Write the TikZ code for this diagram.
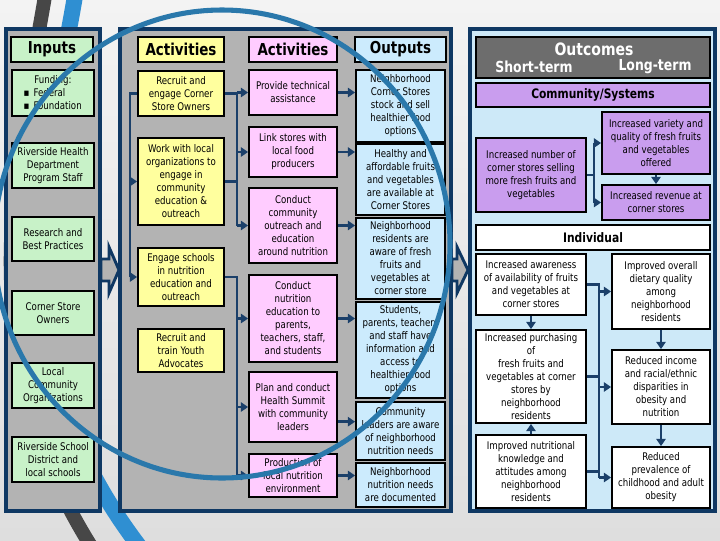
\documentclass[tikz,border=0pt]{standalone}
\usepackage{fontspec}
\setmainfont{DejaVu Sans}[FakeStretch=0.82]
\usetikzlibrary{arrows.meta}
\definecolor{navy}{HTML}{0F3863}
\definecolor{wirec}{HTML}{1B406A}
\definecolor{pgray}{HTML}{B3B3B3}
\definecolor{gfill}{HTML}{C8F2C8}
\definecolor{yfill}{HTML}{FFFF9E}
\definecolor{pfill}{HTML}{FFCCFF}
\definecolor{bfill}{HTML}{CCEBFD}
\definecolor{ofill}{HTML}{CDE9F8}
\definecolor{ufill}{HTML}{C99DEE}
\definecolor{hgray}{HTML}{6D6D6D}
\definecolor{swoosh}{HTML}{2A78AB}
\definecolor{stripeD}{HTML}{474747}
\definecolor{stripeB}{HTML}{2F8FD2}
\definecolor{bgtop}{HTML}{F3F3F3}
\definecolor{bgbot}{HTML}{DEDEDE}
\newcommand\Bx[7]{\node[#1, minimum width={(#5-#3)*0.75pt}, minimum height={(#6-#4)*0.75pt}] (#2) at ({(#3+#5)/2},{(#4+#6)/2}) {#7};}
\tikzset{
  panel/.style={draw=navy, line width=3pt, inner sep=0pt},
  bx/.style={draw=black, line width=1.3pt, align=center, inner sep=1pt, font=\fontsize{7.9}{9.75}\selectfont},
  gbox/.style={bx, fill=gfill},
  ybox/.style={bx, fill=yfill},
  pbox/.style={bx, fill=pfill},
  obox/.style={bx, fill=bfill},
  ubox/.style={bx, fill=ufill},
  wbox/.style={bx, fill=white},
  hdr/.style={draw=black, line width=1.5pt, inner sep=0pt, font=\bfseries\fontsize{12.3}{14}\selectfont},
  band/.style={draw=black, line width=1.5pt, inner sep=0pt, font=\bfseries\fontsize{9.8}{12}\selectfont},
  htext/.style={text=white, inner sep=0pt, font=\bfseries\fontsize{11.4}{13}\selectfont},
  wire/.style={draw=wirec, line width=1.8pt},
  arr/.style={wire, -{Triangle[length=5.5pt,width=7pt]}},
  blockarr/.style={fill=pgray, draw=navy, line width=2.2pt, line join=miter},
}
\begin{document}
\begin{tikzpicture}[x=0.75pt,y=-0.75pt]
\useasboundingbox (0,0) rectangle (720,540);
\clip (0,0) rectangle (720,540);
\shade[top color=bgtop, bottom color=bgbot] (0,0) rectangle (720,540);
% background stripes
\draw[stripeD, line width=10.5pt] (46,-10) .. controls (20,150) and (-40,350) .. (100,560);
\draw[stripeB, line width=12pt] (76,-10) .. controls (50,150) and (-20,350) .. (150,560);
% panels
\Bx{panel, fill=pgray}{panIn}{6}{29}{100}{511}{}
\Bx{panel, fill=pgray}{panAct}{120}{29}{451}{511}{}
\Bx{panel, fill=ofill}{panOut}{470}{29}{715}{511}{}
% block arrows between panels
\draw[blockarr] (101,259)--(109,259)--(109,247)--(119,270)--(109,293)--(109,281)--(101,281)--cycle;
\draw[blockarr] (452,259)--(457,259)--(457,247)--(468,270)--(457,293)--(457,281)--(452,281)--cycle;
% headers
\Bx{hdr, fill=gfill}{hIn}{11}{37}{93}{62}{Inputs}
\Bx{hdr, fill=yfill}{hAc1}{138}{37}{224}{62}{Activities}
\Bx{hdr, fill=pfill}{hAc2}{249}{37}{337}{62}{Activities}
\Bx{hdr, fill=bfill}{hOut}{355}{37}{446}{62}{Outputs}
% inputs
\Bx{gbox}{in1}{12}{70}{94}{116}{Funding:\\\makebox[44pt][l]{▪\hspace{3pt}Federal}\\\makebox[44pt][l]{▪\hspace{3pt}Foundation}}
\Bx{gbox}{in2}{12}{143}{94}{188}{Riverside Health\\Department\\Program Staff}
\Bx{gbox}{in3}{12}{217}{94}{261}{Research and\\Best Practices}
\Bx{gbox}{in4}{12}{291}{94}{335}{Corner Store\\Owners}
\Bx{gbox}{in5}{12}{363}{94}{408}{Local\\Community\\Organizations}
\Bx{gbox}{in6}{12}{437}{94}{482}{Riverside School\\District and\\local schools}
% activities (yellow)
\Bx{ybox}{y1}{138}{71}{224}{116}{Recruit and\\engage Corner\\Store Owners}
\Bx{ybox}{y2}{138}{138}{224}{225}{Work with local\\organizations to\\engage in\\community\\education \&\\outreach}
\Bx{ybox}{y3}{138}{248}{224}{306}{Engage schools\\in nutrition\\education and\\outreach}
\Bx{ybox}{y4}{138}{329}{224}{372}{Recruit and\\train Youth\\Advocates}
% activities (pink)
\Bx{pbox}{p1}{249}{70}{337}{115}{Provide technical\\assistance}
\Bx{pbox}{p2}{249}{127}{337}{177}{Link stores with\\local food\\producers}
\Bx{pbox}{p3}{249}{188}{337}{263}{Conduct\\community\\outreach and\\education\\around nutrition}
\Bx{pbox}{p4}{249}{275}{337}{362}{Conduct\\nutrition\\education to\\parents,\\teachers, staff,\\and students}
\Bx{pbox}{p5}{249}{372}{337}{442}{Plan and conduct\\Health Summit\\with community\\leaders}
\Bx{pbox}{p6}{249}{454}{337}{497}{Production of\\local nutrition\\environment}
% outputs
\Bx{obox}{o1}{356}{70}{445}{142}{Neighborhood\\Corner Stores\\stock and sell\\healthier food\\options}
\Bx{obox}{o2}{356}{144}{445}{215}{Healthy and\\affordable fruits\\and vegetables\\are available at\\Corner Stores}
\Bx{obox}{o3}{356}{218}{445}{299}{Neighborhood\\residents are\\aware of fresh\\fruits and\\vegetables at\\corner store}
\Bx{obox}{o4}{356}{302}{445}{398}{Students,\\parents, teachers\\and staff have\\information and\\access to\\healthier food\\options}
\Bx{obox}{o5}{356}{402}{445}{460}{Community\\leaders are aware\\of neighborhood\\nutrition needs}
\Bx{obox}{o6}{356}{463}{445}{507}{Neighborhood\\nutrition needs\\are documented}
% outcomes
\Bx{hdr, fill=hgray}{hOutc}{476}{37}{710}{78}{}
\node[htext, font=\bfseries\fontsize{12.8}{14}\selectfont] (tOutc) at (594,49) {Outcomes};
\node[htext] (tShort) at (534,67) {Short-term};
\node[htext] (tLong) at (655,67) {Long-term};
\Bx{band, fill=ufill}{comm}{476}{83}{710}{107}{Community/Systems}
\Bx{ubox}{c1}{476}{138}{586}{212}{Increased number of\\corner stores selling\\more fresh fruits and\\vegetables}
\Bx{ubox}{c2}{602}{112}{710}{174}{Increased variety and\\quality of fresh fruits\\and vegetables\\offered}
\Bx{ubox}{c3}{602}{185}{710}{220}{Increased revenue at\\corner stores}
\Bx{band, fill=white}{indiv}{476}{225}{710}{250}{Individual}
\Bx{wbox}{i1}{476}{254}{586}{315}{Increased awareness\\of availability of fruits\\and vegetables at\\corner stores}
\Bx{wbox}{i2}{612}{254}{710}{329}{Improved overall\\dietary quality\\among\\neighborhood\\residents}
\Bx{wbox}{i3}{476}{330}{586}{423}{Increased purchasing\\of\\fresh fruits and\\vegetables at corner\\stores by\\neighborhood\\residents}
\Bx{wbox}{i4}{612}{350}{710}{424}{Reduced income\\and racial/ethnic\\disparities in\\obesity and\\nutrition}
\Bx{wbox}{i5}{476}{435}{586}{508}{Improved nutritional\\knowledge and\\attitudes among\\neighborhood\\residents}
\Bx{wbox}{i6}{612}{447}{710}{508}{Reduced\\prevalence of\\childhood and adult\\obesity}
% bus coordinates
\coordinate (lA) at (130,0);
\coordinate (rA) at (237,0);
\coordinate (rC) at (594,0);
\coordinate (rD) at (599,0);
% activities connectors
\draw[wire] (y1.west) -- (y1.west -| lA) -- (y3.west -| lA);
\draw[arr] (y2.west -| lA) -- (y2.west);
\draw[arr] (y3.west -| lA) -- (y3.west);
\draw[wire] (y1.east) -- (y1.east -| rA) -- (p3.west -| rA);
\draw[wire] (y2.east) -- (y2.east -| rA);
\draw[arr] (p1.west -| rA) -- (p1.west);
\draw[arr] (p2.west -| rA) -- (p2.west);
\draw[arr] (p3.west -| rA) -- (p3.west);
\draw[wire] (y3.east) -- (y3.east -| rA) -- (p6.west -| rA);
\draw[arr] (p4.west -| rA) -- (p4.west);
\draw[arr] (p5.west -| rA) -- (p5.west);
\draw[arr] (p6.west -| rA) -- (p6.west);
% activities to outputs
\draw[arr] (p1.east) -- (p1.east -| o1.west);
\draw[arr] (p2.east) -- (p2.east -| o2.west);
\draw[arr] (p3.east) -- (p3.east -| o3.west);
\draw[arr] (p4.east) -- (p4.east -| o4.west);
\draw[arr] ([yshift=-11pt]p5.east) -- ([yshift=-11pt]p5.east -| o5.west);
\draw[arr] (p6.east) -- (p6.east -| o6.west);
% community/systems connectors
\draw[wire] (c1.east) -- (c1.east -| rC);
\draw[wire] (c2.west -| rC) -- (c3.west -| rC);
\draw[arr] (c2.west -| rC) -- (c2.west);
\draw[arr] (c3.west -| rC) -- (c3.west);
\draw[arr] (c2.south) -- (c3.north);
% individual connectors
\draw[wire] (i1.east) -- (i1.east -| rD) -- (i6.west -| rD);
\draw[wire] (i3.east) -- (i3.east -| rD);
\draw[wire] (i5.east) -- (i5.east -| rD);
\draw[arr] (i2.west -| rD) -- (i2.west);
\draw[arr] (i4.west -| rD) -- (i4.west);
\draw[arr] (i6.west -| rD) -- (i6.west);
\draw[arr] (i1.south) -- (i3.north);
\draw[arr] (i5.north) -- (i3.south);
\draw[arr] (i2.south) -- (i4.north);
\draw[arr] (i4.south) -- (i6.north);
% decorative swoosh
\draw[swoosh, line width=3.8pt] (222,244) ellipse [x radius=228, y radius=234];
\end{tikzpicture}
\end{document}
